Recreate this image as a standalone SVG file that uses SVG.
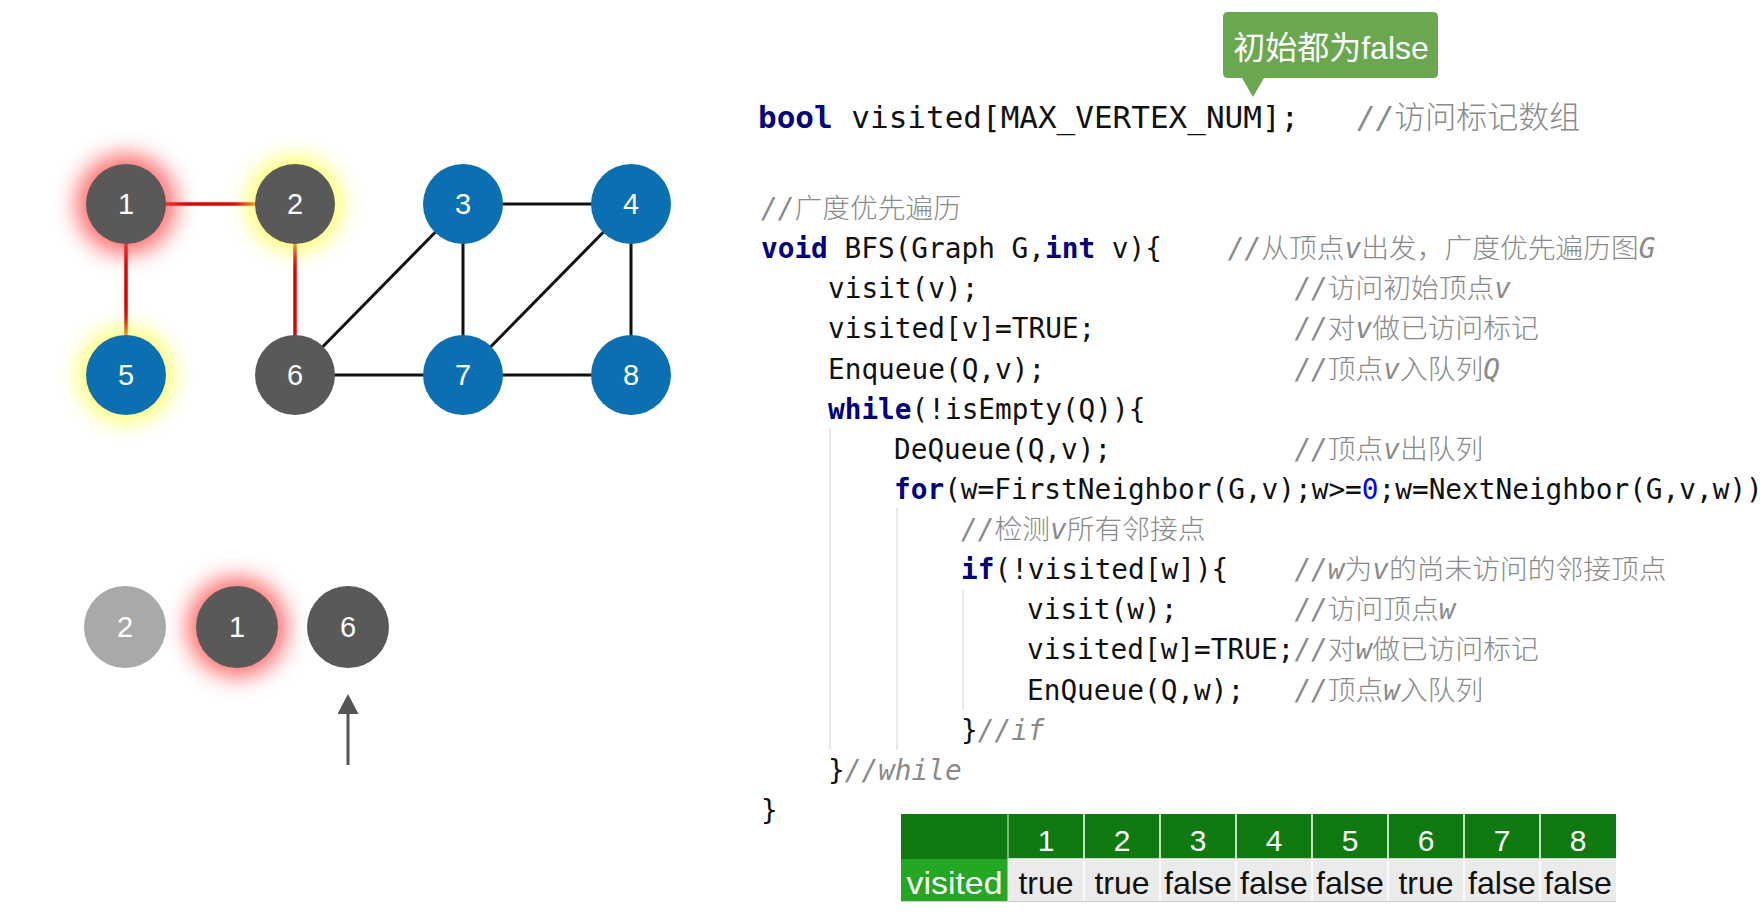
<svg xmlns="http://www.w3.org/2000/svg" width="1760" height="918" viewBox="0 0 1760 918">
  <defs>
    <style>
      .edge-red { stroke: #e00000; stroke-width: 3.5; fill: none; }
      .edge { stroke: #111111; stroke-width: 3; fill: none; }
      .gray { fill: #595959; }
      .blue { fill: #0b70b2; }
      .light { fill: #a9a9a9; }
      .num { font-family: "Liberation Sans", Arial, sans-serif; font-size: 29px; fill: #ffffff; text-anchor: middle; }
      .code { font-family: "DejaVu Sans Mono", "Noto Sans CJK SC", monospace; font-size: 27.75px; fill: #111111; }
      .big { font-size: 31px; }
      .kw { fill: #000080; font-weight: bold; }
      .lit { fill: #0000ff; }
      .cm { fill: #8a8a8a; font-weight: 300; }
      .it { font-style: italic; }
      .guide { stroke: #e2e2e2; stroke-width: 1.5; }
      .tcell { font-family: "Liberation Sans", Arial, sans-serif; text-anchor: middle; }
      .hdr { fill: #ffffff; font-size: 30px; }
      .val { fill: #111111; font-size: 32px; }
    </style>
    <filter id="glow" x="-100%" y="-100%" width="300%" height="300%">
      <feGaussianBlur stdDeviation="11"/>
    </filter>
    <marker id="arrowhead" viewBox="0 0 20 21" refX="0" refY="10.5" markerWidth="20" markerHeight="21" markerUnits="userSpaceOnUse" orient="auto">
      <path d="M0,0 L20,10.5 L0,21 Z" fill="#555555"/>
    </marker>
  </defs>

  <rect width="1760" height="918" fill="#ffffff"/>

  <!-- graph edges -->
  <g id="connectors">
    <line class="edge-red" x1="126" y1="204" x2="295" y2="204"/>
    <line class="edge-red" x1="126" y1="204" x2="126" y2="375"/>
    <line class="edge-red" x1="295" y1="204" x2="295" y2="375"/>
    <line class="edge" x1="463" y1="204" x2="631" y2="204"/>
    <line class="edge" x1="463" y1="204" x2="295" y2="375"/>
    <line class="edge" x1="463" y1="204" x2="463" y2="375"/>
    <line class="edge" x1="631" y1="204" x2="463" y2="375"/>
    <line class="edge" x1="631" y1="204" x2="631" y2="375"/>
    <line class="edge" x1="295" y1="375" x2="463" y2="375"/>
    <line class="edge" x1="463" y1="375" x2="631" y2="375"/>
    <!-- queue pointer -->
    <line x1="348" y1="765" x2="348" y2="714" stroke="#555555" stroke-width="3" marker-end="url(#arrowhead)"/>
  </g>

  <!-- graph vertices -->
  <g id="node-1">
    <circle cx="126" cy="204" r="50" fill="#ff4a4a" opacity="0.8" filter="url(#glow)"/>
    <circle class="gray" cx="126" cy="204" r="40"/>
    <text class="num" x="126" y="214">1</text>
  </g>
  <g id="node-2">
    <circle cx="295" cy="204" r="47" fill="#ffff4d" opacity="0.85" filter="url(#glow)"/>
    <circle class="gray" cx="295" cy="204" r="40"/>
    <text class="num" x="295" y="214">2</text>
  </g>
  <g id="node-3">
    <circle class="blue" cx="463" cy="204" r="40"/>
    <text class="num" x="463" y="214">3</text>
  </g>
  <g id="node-4">
    <circle class="blue" cx="631" cy="204" r="40"/>
    <text class="num" x="631" y="214">4</text>
  </g>
  <g id="node-5">
    <circle cx="126" cy="375" r="47" fill="#ffff4d" opacity="0.85" filter="url(#glow)"/>
    <circle class="blue" cx="126" cy="375" r="40"/>
    <text class="num" x="126" y="385">5</text>
  </g>
  <g id="node-6">
    <circle class="gray" cx="295" cy="375" r="40"/>
    <text class="num" x="295" y="385">6</text>
  </g>
  <g id="node-7">
    <circle class="blue" cx="463" cy="375" r="40"/>
    <text class="num" x="463" y="385">7</text>
  </g>
  <g id="node-8">
    <circle class="blue" cx="631" cy="375" r="40"/>
    <text class="num" x="631" y="385">8</text>
  </g>

  <!-- queue contents -->
  <g id="queue-2">
    <circle class="light" cx="125" cy="627" r="41"/>
    <text class="num" x="125" y="637">2</text>
  </g>
  <g id="queue-1">
    <circle cx="237" cy="627" r="50" fill="#ff4a4a" opacity="0.8" filter="url(#glow)"/>
    <circle class="gray" cx="237" cy="627" r="41"/>
    <text class="num" x="237" y="637">1</text>
  </g>
  <g id="queue-6">
    <circle class="gray" cx="348" cy="627" r="41"/>
    <text class="num" x="348" y="637">6</text>
  </g>

  <!-- callout -->
  <g id="callout">
    <path d="M1228,12 H1433 Q1438,12 1438,17 V73 Q1438,78 1433,78 H1264 L1253,97 L1242,78 H1228 Q1223,78 1223,73 V17 Q1223,12 1228,12 Z" fill="#6aa84f"/>
    <text x="1331" y="59" fill="#ffffff" font-family="Liberation Sans, Noto Sans CJK SC, sans-serif" font-size="32" text-anchor="middle">初始都为false</text>
  </g>

  <!-- indentation guides -->
  <g id="guides">
    <line class="guide" x1="830" y1="428" x2="830" y2="750"/>
    <line class="guide" x1="897" y1="508" x2="897" y2="750"/>
    <line class="guide" x1="963" y1="590" x2="963" y2="710"/>
  </g>

  <!-- source listing -->
  <g id="code" class="code">
    <text class="big" x="758" y="128"><tspan class="kw">bool</tspan> visited[MAX_VERTEX_NUM];</text>
    <text class="big cm" x="1357" y="128"><tspan class="it">//</tspan>访问标记数组</text>

    <text class="cm" x="761" y="218"><tspan class="it">//</tspan>广度优先遍历</text>

    <text x="761" y="258.1"><tspan class="kw">void</tspan> BFS(Graph G,<tspan class="kw">int</tspan> v){</text>
    <text class="cm" x="1227.8" y="258.1"><tspan class="it">//</tspan>从顶点<tspan class="it">v</tspan>出发，广度优先遍历图<tspan class="it">G</tspan></text>

    <text x="828" y="298.3">visit(v);</text>
    <text class="cm" x="1294.4" y="298.3"><tspan class="it">//</tspan>访问初始顶点<tspan class="it">v</tspan></text>

    <text x="828" y="338.4">visited[v]=TRUE;</text>
    <text class="cm" x="1294.4" y="338.4"><tspan class="it">//</tspan>对<tspan class="it">v</tspan>做已访问标记</text>

    <text x="828" y="378.5">Enqueue(Q,v);</text>
    <text class="cm" x="1294.4" y="378.5"><tspan class="it">//</tspan>顶点<tspan class="it">v</tspan>入队列<tspan class="it">Q</tspan></text>

    <text x="828" y="418.7"><tspan class="kw">while</tspan>(!isEmpty(Q)){</text>

    <text x="894" y="458.8">DeQueue(Q,v);</text>
    <text class="cm" x="1294.4" y="458.8"><tspan class="it">//</tspan>顶点<tspan class="it">v</tspan>出队列</text>

    <text x="894" y="498.9"><tspan class="kw">for</tspan>(w=FirstNeighbor(G,v);w&gt;=<tspan class="lit">0</tspan>;w=NextNeighbor(G,v,w))</text>

    <text class="cm" x="961" y="539"><tspan class="it">//</tspan>检测<tspan class="it">v</tspan>所有邻接点</text>

    <text x="961" y="579.2"><tspan class="kw">if</tspan>(!visited[w]){</text>
    <text class="cm" x="1294.4" y="579.2"><tspan class="it">//w</tspan>为<tspan class="it">v</tspan>的尚未访问的邻接顶点</text>

    <text x="1027" y="619.3">visit(w);</text>
    <text class="cm" x="1294.4" y="619.3"><tspan class="it">//</tspan>访问顶点<tspan class="it">w</tspan></text>

    <text x="1027" y="659.4">visited[w]=TRUE;</text>
    <text class="cm" x="1294.4" y="659.4"><tspan class="it">//</tspan>对<tspan class="it">w</tspan>做已访问标记</text>

    <text x="1027" y="699.6">EnQueue(Q,w);</text>
    <text class="cm" x="1294.4" y="699.6"><tspan class="it">//</tspan>顶点<tspan class="it">w</tspan>入队列</text>

    <text x="961" y="739.7">}<tspan class="cm it">//if</tspan></text>
    <text x="828" y="779.8">}<tspan class="cm it">//while</tspan></text>
    <text x="761" y="820">}</text>
  </g>

  <!-- visited[] table -->
  <g id="visited-table">
    <rect x="901" y="814" width="715" height="45" fill="#0f7a10"/>
    <rect x="901" y="859" width="107" height="42" fill="#22a822"/>
    <rect x="1008" y="859" width="608" height="42" fill="#ebebeb"/>
    <g stroke="#ffffff" stroke-width="1.5">
      <line x1="1008" y1="814" x2="1008" y2="901" stroke-opacity="0.6"/>
      <line x1="1084" y1="814" x2="1084" y2="901"/>
      <line x1="1160" y1="814" x2="1160" y2="901"/>
      <line x1="1236" y1="814" x2="1236" y2="901"/>
      <line x1="1312" y1="814" x2="1312" y2="901"/>
      <line x1="1388" y1="814" x2="1388" y2="901"/>
      <line x1="1464" y1="814" x2="1464" y2="901"/>
      <line x1="1540" y1="814" x2="1540" y2="901"/>
      <line x1="1008" y1="859" x2="1616" y2="859"/>
    </g>
    <line x1="901" y1="901.5" x2="1616" y2="901.5" stroke="#d0d0d0" stroke-width="1"/>
    <g class="tcell hdr">
      <text x="1046" y="851">1</text>
      <text x="1122" y="851">2</text>
      <text x="1198" y="851">3</text>
      <text x="1274" y="851">4</text>
      <text x="1350" y="851">5</text>
      <text x="1426" y="851">6</text>
      <text x="1502" y="851">7</text>
      <text x="1578" y="851">8</text>
    </g>
    <text class="tcell" x="954.5" y="894" fill="#ffffff" font-size="32" textLength="96" lengthAdjust="spacingAndGlyphs">visited</text>
    <g class="tcell val">
      <text x="1046" y="894">true</text>
      <text x="1122" y="894">true</text>
      <text x="1198" y="894" textLength="68" lengthAdjust="spacingAndGlyphs">false</text>
      <text x="1274" y="894" textLength="68" lengthAdjust="spacingAndGlyphs">false</text>
      <text x="1350" y="894" textLength="68" lengthAdjust="spacingAndGlyphs">false</text>
      <text x="1426" y="894">true</text>
      <text x="1502" y="894" textLength="68" lengthAdjust="spacingAndGlyphs">false</text>
      <text x="1578" y="894" textLength="68" lengthAdjust="spacingAndGlyphs">false</text>
    </g>
  </g>
</svg>
